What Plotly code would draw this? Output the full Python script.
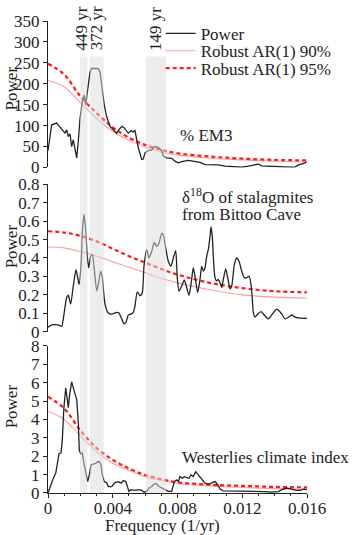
import plotly.graph_objects as go

# ---------------- data ----------------
em3_freq = [0, 0.000229, 0.000537, 0.000846, 0.00105, 0.001155, 0.001254, 0.001359, 0.001464, 0.001563,
            0.001773, 0.001872, 0.001977, 0.002119, 0.002242, 0.002329, 0.002471, 0.002595, 0.0027, 0.002904,
            0.003107, 0.003212, 0.003354, 0.003478, 0.003626, 0.00383, 0.004034, 0.004244, 0.004343, 0.004553,
            0.004695, 0.004862, 0.004961, 0.005128, 0.005251, 0.005375, 0.00548, 0.005579, 0.005789, 0.005887,
            0.005993, 0.006196, 0.006406, 0.00661, 0.006814, 0.006919, 0.007024, 0.007123, 0.007333, 0.007642,
            0.007846, 0.00805, 0.00826, 0.008668, 0.009081, 0.00939, 0.009699, 0.010113, 0.010521, 0.010935,
            0.011349, 0.011966, 0.012374, 0.012788, 0.012992, 0.013202, 0.01361, 0.014024, 0.014438, 0.014845,
            0.015055, 0.015259, 0.015463, 0.015772, 0.015982]
em3_power = [40, 102, 106, 90, 82, 90, 74, 80, 50, 66,
             23, 62, 117, 157, 173, 150, 190, 228, 237, 236,
             236, 228, 180, 149, 121, 98, 90, 82, 88, 98,
             95, 86, 82, 88, 85, 88, 66, 47, 19, 20,
             35, 40, 42, 50, 48, 43, 40, 27, 23, 22,
             15, 11, 14, 17, 15, 12, 7, 7, 6, 3,
             2, 0.5, 3, 6, 8, 4, 3, 2, 2, 1,
             0.5, 1, 6, 9, 13]

bittoo_freq = [0, 0.000229, 0.000636, 0.000846, 0.000945, 0.001155, 0.001254, 0.001402, 0.001563, 0.00173,
               0.001835, 0.001915, 0.002039, 0.002119, 0.002224, 0.002329, 0.002428, 0.002514, 0.002638, 0.002737,
               0.00286, 0.003009, 0.003108, 0.003256, 0.003355, 0.003521, 0.003725, 0.003935, 0.004244, 0.004386,
               0.004553, 0.004695, 0.004819, 0.004961, 0.005128, 0.00527, 0.005375, 0.005517, 0.005684, 0.005826,
               0.005931, 0.006098, 0.00624, 0.006407, 0.006567, 0.006715, 0.006858, 0.007024, 0.007123, 0.007272,
               0.007432, 0.007599, 0.007741, 0.007889, 0.007988, 0.008093, 0.008297, 0.008421, 0.008569, 0.008711,
               0.008835, 0.008977, 0.009125, 0.009248, 0.009391, 0.009495, 0.009594, 0.009699, 0.009804, 0.009903,
               0.010008, 0.01007, 0.01015, 0.010212, 0.010317, 0.010422, 0.010521, 0.010626, 0.010731, 0.01083,
               0.010978, 0.011102, 0.011244, 0.011349, 0.01151, 0.011658, 0.0118, 0.011967, 0.012128, 0.012276,
               0.012418, 0.012541, 0.012622, 0.012683, 0.012788, 0.012955, 0.013159, 0.013363, 0.01361, 0.013857,
               0.014129, 0.014395, 0.014642, 0.014846, 0.015056, 0.01526, 0.015464, 0.015877, 0.016]
bittoo_power = [0.025, 0.037, 0.037, 0.03, 0.07, 0.186, 0.198, 0.15, 0.249, 0.337,
                0.293, 0.257, 0.356, 0.534, 0.637, 0.552, 0.409, 0.347, 0.409, 0.418,
                0.337, 0.222, 0.257, 0.329, 0.293, 0.15, 0.102, 0.096, 0.105, 0.102,
                0.07, 0.043, 0.052, 0.091, 0.096, 0.105, 0.141, 0.216, 0.195, 0.213,
                0.356, 0.445, 0.4, 0.436, 0.484, 0.463, 0.48, 0.534, 0.525, 0.454,
                0.382, 0.356, 0.4, 0.44, 0.29, 0.22, 0.257, 0.281, 0.239, 0.198,
                0.257, 0.347, 0.275, 0.213, 0.284, 0.356, 0.329, 0.347, 0.409, 0.445,
                0.516, 0.57, 0.516, 0.409, 0.293, 0.275, 0.284, 0.266, 0.239, 0.284,
                0.341, 0.293, 0.234, 0.248, 0.364, 0.4, 0.382, 0.329, 0.293, 0.293,
                0.302, 0.257, 0.177, 0.105, 0.079, 0.096, 0.109, 0.091, 0.07, 0.096,
                0.123, 0.102, 0.07, 0.079, 0.091, 0.079, 0.075, 0.073, 0.073]

west_freq = [0, 0.000124, 0.000327, 0.000476, 0.000599, 0.00068, 0.000803, 0.000883, 0.00097, 0.001094,
             0.001192, 0.001254, 0.001341, 0.001464, 0.001563, 0.001668, 0.001773, 0.001872, 0.001934, 0.00202,
             0.002119, 0.002243, 0.002391, 0.002453, 0.002552, 0.002657, 0.002799, 0.002947, 0.00307, 0.003169,
             0.003274, 0.003355, 0.003478, 0.003626, 0.003725, 0.003935, 0.004139, 0.004343, 0.00451, 0.004652,
             0.0048, 0.004924, 0.005004, 0.005128, 0.005375, 0.005579, 0.005789, 0.005949, 0.006098, 0.00624,
             0.006407, 0.006567, 0.006715, 0.006858, 0.007024, 0.007228, 0.007432, 0.007642, 0.007741, 0.007803,
             0.007951, 0.00805, 0.008155, 0.008297, 0.008421, 0.008569, 0.008711, 0.008835, 0.008977, 0.009125,
             0.009248, 0.009391, 0.009533, 0.009699, 0.009866, 0.010008, 0.01015, 0.010317, 0.010484, 0.010626,
             0.01083, 0.011139, 0.011448, 0.011757, 0.012171, 0.012585, 0.012992, 0.013406, 0.01382, 0.014228,
             0.014438, 0.014747, 0.015056, 0.015365, 0.015569, 0.015773, 0.015982]
west_power = [0, 0.35, 0.8, 1.07, 1.6, 2.14, 2.17, 2.86, 4.47, 5.72,
              5.09, 4.64, 5.36, 6.04, 5.72, 5.36, 5.09, 3.84, 2.32, 2.14,
              2.17, 1.52, 0.89, 0.62, 0.98, 1.52, 1.57, 1.61, 1.7, 1.7,
              1.52, 0.98, 0.62, 0.54, 0.35, 0.35, 0.57, 0.62, 0.54, 0.68,
              0.62, 0.35, 0.09, 0.18, 0.14, 0.18, 0.14, 0.04, 0.09, 0.27,
              0.35, 0.5, 0.5, 0.35, 0.27, 0.21, 0.09, 0.09, 0.35, 0.62,
              0.71, 0.62, 0.89, 0.8, 0.89, 0.84, 0.8, 0.98, 0.89, 1.16,
              1.04, 0.89, 0.71, 0.54, 0.5, 0.5, 0.57, 0.62, 0.45, 0.21,
              0.12, 0.12, 0.08, 0.12, 0.08, 0.08, 0.12, 0.08, 0.05, 0.08,
              0.18, 0.27, 0.21, 0.14, 0.14, 0.21, 0.18]

ar_freq = [0, 0.001, 0.002, 0.003, 0.004, 0.005, 0.006, 0.007, 0.008, 0.010, 0.012, 0.014, 0.016]
em3_ar90 = [208, 193, 155, 117, 86, 65, 49, 37, 30, 22, 18, 15, 13]
em3_ar95 = [248, 222, 170, 130, 96, 71, 54, 42, 34, 26, 21, 18, 17]
bittoo_ar90 = [0.46, 0.455, 0.435, 0.41, 0.38, 0.35, 0.32, 0.29, 0.265, 0.228, 0.2, 0.188, 0.182]
bittoo_ar95 = [0.545, 0.538, 0.52, 0.49, 0.45, 0.41, 0.375, 0.34, 0.31, 0.265, 0.237, 0.22, 0.214]
west_ar90 = [4.43, 4.0, 3.1, 2.25, 1.62, 1.22, 0.89, 0.68, 0.52, 0.39, 0.3, 0.24, 0.21]
west_ar95 = [5.23, 4.6, 3.4, 2.45, 1.8, 1.33, 0.98, 0.75, 0.58, 0.45, 0.39, 0.33, 0.31]

band_lo = [0.00198, 0.00259, 0.00604]
band_hi = [0.00243, 0.00344, 0.00729]
band_labels = ["449 yr", "372 yr", "149 yr"]
band_label_pos = [0.00210, 0.00301, 0.00664]

x_ticks = [0, 0.004, 0.008, 0.012, 0.016]

FONT = "Liberation Serif, Times New Roman, serif"
FS = 17
BLACK = "#222222"
PINK = "#ff9c9c"
RED = "#ff1a1a"

fig = go.Figure()

panels = [
    (em3_freq, em3_power, em3_ar90, em3_ar95, "x", "y", "linear"),
    (bittoo_freq, bittoo_power, bittoo_ar90, bittoo_ar95, "x2", "y2", "spline"),
    (west_freq, west_power, west_ar90, west_ar95, "x3", "y3", "linear"),
]
for i, (fx, pw, a90, a95, xa, ya, shp) in enumerate(panels):
    first = i == 0
    fig.add_trace(go.Scatter(x=ar_freq, y=a90, mode="lines", xaxis=xa, yaxis=ya,
                             line=dict(color=PINK, width=1.1, shape="spline"),
                             name="Robust AR(1) 90%", showlegend=first, legend="legend2"))
    fig.add_trace(go.Scatter(x=ar_freq, y=a95, mode="lines", xaxis=xa, yaxis=ya,
                             line=dict(color=RED, width=2.2, dash="4px,3px", shape="spline"),
                             name="Robust AR(1) 95%", showlegend=first, legend="legend3"))
    fig.add_trace(go.Scatter(x=fx, y=pw, mode="lines", xaxis=xa, yaxis=ya,
                             line=dict(color=BLACK, width=1.3, shape=shp, smoothing=0.6),
                             name="Power", showlegend=first, legend="legend"))

# shaded bands spanning all panels
for lo, hi in zip(band_lo, band_hi):
    fig.add_shape(type="rect", xref="x3", yref="paper", x0=lo, x1=hi, y0=0, y1=0.9247,
                  fillcolor="rgba(220,220,220,0.5)", line=dict(width=0), layer="above")

for lab, pos in zip(band_labels, band_label_pos):
    fig.add_annotation(x=pos, y=0.933, xref="x3", yref="paper", text=lab, showarrow=False,
                       textangle=-90, xanchor="center", yanchor="bottom",
                       font=dict(family=FONT, size=FS, color=BLACK))

yaxis_common = dict(showline=True, linecolor=BLACK, linewidth=1, ticks="outside", ticklen=4,
                    tickcolor=BLACK, showgrid=False, zeroline=False,
                    tickfont=dict(family=FONT, size=FS, color=BLACK))
xhidden = dict(range=[0, 0.016], showline=False, showticklabels=False, ticks="", showgrid=False,
               zeroline=False, matches="x3")

fig.update_layout(
    width=353, height=535,
    margin=dict(l=48, r=46, t=15, b=42),
    paper_bgcolor="white", plot_bgcolor="white",
    font=dict(family=FONT, size=FS, color=BLACK),
    xaxis=dict(xhidden, anchor="y"),
    xaxis2=dict(xhidden, anchor="y2"),
    xaxis3=dict(range=[0, 0.016], anchor="y3", showline=True, linecolor=BLACK, linewidth=1,
                ticks="outside", ticklen=4, tickcolor=BLACK, tickvals=x_ticks,
                ticktext=["0", "0.004", "0.008", "0.012", "0.016"],
                minor=dict(dtick=0.001, ticks="outside", ticklen=2, tickcolor=BLACK),
                showgrid=False, zeroline=False, ticklabelstandoff=-4,
                tickfont=dict(family=FONT, size=FS, color=BLACK)),
    yaxis=dict(yaxis_common, domain=[0.6897, 1.0], range=[0, 350], dtick=50, anchor="x"),
    yaxis2=dict(yaxis_common, domain=[0.3416, 0.6542], range=[0, 0.8], dtick=0.1, anchor="x2"),
    yaxis3=dict(yaxis_common, domain=[0.0, 0.3117], range=[0, 8], dtick=1, anchor="x3"),
    legend=dict(x=0.435, y=0.973, xanchor="left", yanchor="middle", bgcolor="rgba(0,0,0,0)",
                font=dict(family=FONT, size=FS, color=BLACK), itemwidth=30),
    legend2=dict(x=0.435, y=0.936, xanchor="left", yanchor="middle", bgcolor="rgba(0,0,0,0)",
                 font=dict(family=FONT, size=FS, color=BLACK), itemwidth=30),
    legend3=dict(x=0.435, y=0.899, xanchor="left", yanchor="middle", bgcolor="rgba(0,0,0,0)",
                 font=dict(family=FONT, size=FS, color=BLACK), itemwidth=30),
)

ann_font = dict(family=FONT, size=FS, color=BLACK)
fig.add_annotation(x=0.502, y=0.7573, xref="paper", yref="paper", text="% EM3", showarrow=False,
                   xanchor="left", yanchor="middle", font=ann_font)
fig.add_annotation(x=0.5097, y=0.6297, xref="paper", yref="paper",
                   text="δ<sup>18</sup>O of stalagmites", showarrow=False,
                   xanchor="left", yanchor="middle", font=ann_font)
fig.add_annotation(x=0.5097, y=0.59, xref="paper", yref="paper", text="from Bittoo Cave",
                   showarrow=False, xanchor="left", yanchor="middle", font=ann_font)
fig.add_annotation(x=0.5097, y=0.0753, xref="paper", yref="paper", text="Westerlies climate index",
                   showarrow=False, xanchor="left", yanchor="middle", font=ann_font)
fig.add_annotation(x=0.444, y=-0.068, xref="paper", yref="paper", text="Frequency (1/yr)",
                   showarrow=False, xanchor="center", yanchor="middle", font=ann_font)
for yc in [0.8577, 0.523, 0.184]:
    fig.add_annotation(x=-0.142, y=yc, xref="paper", yref="paper", text="Power", showarrow=False,
                       textangle=-90, xanchor="center", yanchor="middle", font=ann_font)

# remove the default 8px page margin so the figure fills the window exactly; hide the mode bar
fig.write_html("out.html", config={"displayModeBar": False},
               post_script="document.body.style.margin='0';")
